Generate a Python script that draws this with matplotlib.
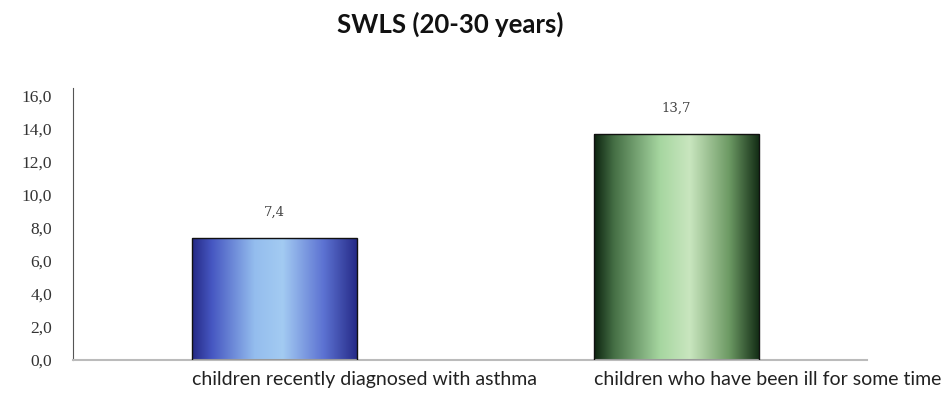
import matplotlib
matplotlib.use("Agg")
import matplotlib.pyplot as plt
import numpy as np
from matplotlib.colors import LinearSegmentedColormap

title = "SWLS (20-30 years)"
categories = ["children recently diagnosed with asthma",
              "children who have been ill for some time"]
values = [7.4, 13.7]
value_labels = ["7,4", "13,7"]
yticks = [0, 2, 4, 6, 8, 10, 12, 14, 16]
ytick_labels = ["0,0", "2,0", "4,0", "6,0", "8,0", "10,0", "12,0", "14,0", "16,0"]

blue = LinearSegmentedColormap.from_list(
    "blue", [(0, "#252a85"), (0.12, "#4657c2"), (0.38, "#94bdee"),
             (0.55, "#a3cbf2"), (0.8, "#5c72d2"), (1, "#262b88")])
green = LinearSegmentedColormap.from_list(
    "green", [(0, "#0d2410"), (0.12, "#456f45"), (0.4, "#a6d6a0"),
              (0.58, "#c9e6bf"), (0.82, "#6d9a64"), (1, "#142e16")])

fig = plt.figure(figsize=(9.42, 4.01), dpi=100)
ax = fig.add_axes([0.0775, 0.102, 0.843, 0.679])

x = np.arange(len(values))
width = 0.41
bars = ax.bar(x, values, width=width, color="none", edgecolor="#111111",
              linewidth=1.0, zorder=3)

grad = np.linspace(0, 1, 256).reshape(1, -1)
for bar, cmap in zip(bars, [blue, green]):
    x0, y0 = bar.get_x(), bar.get_y()
    w, h = bar.get_width(), bar.get_height()
    im = ax.imshow(grad, cmap=cmap, aspect="auto",
                   extent=[x0, x0 + w, y0, y0 + h], zorder=2,
                   interpolation="bicubic")
    im.set_clip_path(bar)

for xi, v, lab in zip(x, values, value_labels):
    ax.annotate(lab, (xi, v), xytext=(0, 14), textcoords="offset points",
                ha="center", va="bottom", fontsize=9.5, color="#444444",
                family="DejaVu Serif")

ax.set_xlim(-0.502, 1.475)
ax.set_ylim(0, 16.5)
ax.set_yticks(yticks)
ax.set_yticklabels(ytick_labels, family="Liberation Serif", fontsize=12.5,
                   color="#333333")
ax.set_xticks(x - width / 2)
ax.set_xticklabels(categories, ha="left", family="Lato", fontsize=14,
                   color="#222222")
ax.tick_params(axis="both", length=0)
ax.tick_params(axis="y", pad=15)
ax.tick_params(axis="x", pad=8)

ax.spines["top"].set_visible(False)
ax.spines["right"].set_visible(False)
ax.spines["left"].set_color("#555555")
ax.spines["left"].set_linewidth(0.8)
ax.spines["bottom"].set_color("#bbbbbb")
ax.spines["bottom"].set_linewidth(1.5)

fig.text(0.478, 0.94, title, ha="center", va="center", fontsize=18.5,
         fontweight="bold", family="Lato", color="#111111")

fig.savefig("out.png", dpi=100)
